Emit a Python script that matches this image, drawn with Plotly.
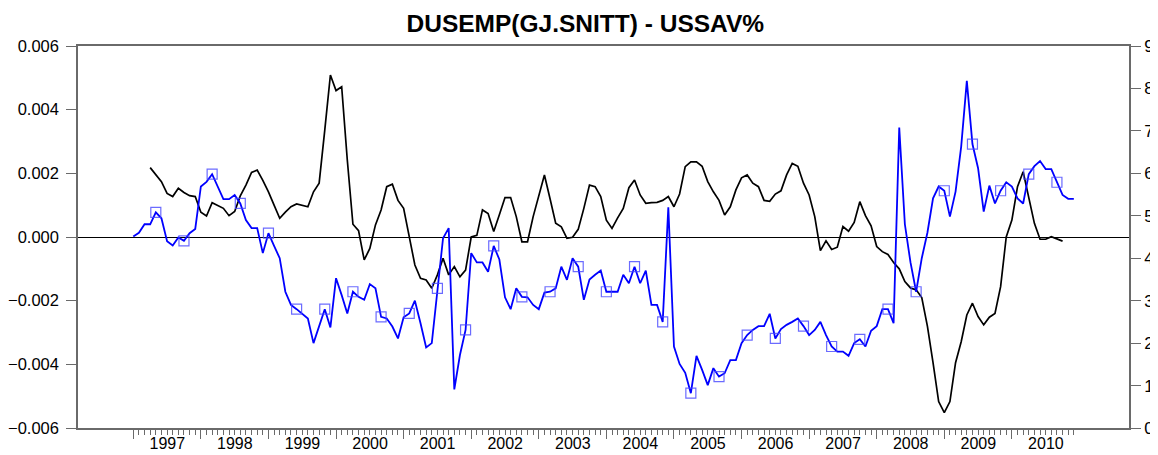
import pandas as pd
import plotly.graph_objects as go

# ---- data ----
title_text = "DUSEMP(GJ.SNITT) - USSAV%"

# USSAV% (right axis), monthly Jan 1997 - Dec 2010
ussav_start = "1997-01-01"
ussav = [
    4.51, 4.60, 4.80, 4.80, 5.08, 4.94, 4.40, 4.30, 4.49, 4.41, 4.59, 4.69,
    5.69, 5.80, 5.98, 5.69, 5.39, 5.39, 5.49, 5.29, 4.90, 4.71, 4.71, 4.12,
    4.59, 4.29, 4.00, 3.21, 2.90, 2.80, 2.70, 2.58, 2.00, 2.39, 2.80, 2.37,
    3.53, 3.13, 2.70, 3.21, 3.09, 3.02, 3.39, 3.29, 2.62, 2.58, 2.39, 2.11,
    2.61, 2.70, 3.00, 2.47, 1.90, 2.00, 3.29, 4.47, 4.71, 0.91, 1.72, 2.31,
    4.12, 3.90, 3.90, 3.68, 4.29, 3.97, 3.08, 2.80, 3.29, 3.09, 3.08, 2.90,
    2.80, 3.19, 3.21, 3.29, 3.80, 3.49, 4.00, 3.80, 3.02, 3.50, 3.61, 3.71,
    3.21, 3.21, 3.21, 3.61, 3.41, 3.80, 3.41, 3.71, 2.90, 2.90, 2.50, 5.20,
    1.92, 1.51, 1.30, 0.82, 1.70, 1.37, 1.01, 1.41, 1.21, 1.29, 1.60, 1.60,
    2.00, 2.19, 2.31, 2.40, 2.40, 2.69, 2.11, 2.33, 2.43, 2.50, 2.58, 2.40,
    2.19, 2.31, 2.50, 2.19, 1.92, 1.80, 1.80, 1.70, 2.00, 2.09, 1.92, 2.29,
    2.40, 2.80, 2.80, 2.47, 7.08, 4.80, 3.90, 3.21, 4.00, 4.60, 5.41, 5.69,
    5.59, 4.98, 5.57, 6.63, 8.18, 6.69, 6.12, 5.10, 5.71, 5.29, 5.59, 5.79,
    5.69, 5.41, 5.29, 5.98, 6.17, 6.29, 6.10, 6.10, 5.79, 5.49, 5.40, 5.40,
]

# DUSEMP(GJ.SNITT) (left axis), monthly Apr 1997 - Oct 2010
dusemp_start = "1997-04-01"
dusemp = [
    0.00218, 0.00196, 0.00174, 0.00137, 0.00127, 0.00153, 0.00140, 0.00130, 0.00127,
    0.00078, 0.00066, 0.00108, 0.00098, 0.00090, 0.00067, 0.00080, 0.00129, 0.00163,
    0.00203, 0.00210, 0.00178, 0.00142, 0.00100, 0.00059, 0.00078, 0.00095, 0.00104,
    0.00100, 0.00095, 0.00142, 0.00169, 0.00336, 0.00509, 0.00460, 0.00472, 0.00242,
    0.00040, 0.00020, -0.00072, -0.00036, 0.00038, 0.00085, 0.00158, 0.00166, 0.00115,
    0.00090, 0.00005, -0.00088, -0.00130, -0.00135, -0.00161, -0.00119, -0.00067,
    -0.00119, -0.00093, -0.00125, -0.00104, 0.00000, 0.00005, 0.00085, 0.00074,
    0.00017, 0.00070, 0.00124, 0.00124, 0.00064, -0.00015, -0.00015, 0.00064,
    0.00130, 0.00195, 0.00120, 0.00043, 0.00032, -0.00004, -0.00001, 0.00024,
    0.00090, 0.00163, 0.00158, 0.00127, 0.00053, 0.00027, 0.00060, 0.00090,
    0.00155, 0.00179, 0.00132, 0.00106, 0.00108, 0.00109, 0.00115, 0.00127,
    0.00095, 0.00135, 0.00221, 0.00236, 0.00236, 0.00222, 0.00174, 0.00142,
    0.00115, 0.00069, 0.00095, 0.00148, 0.00186, 0.00195, 0.00169, 0.00158,
    0.00115, 0.00112, 0.00135, 0.00145, 0.00195, 0.00231, 0.00222, 0.00169,
    0.00132, 0.00064, -0.00043, -0.00012, -0.00039, -0.00032, 0.00033, 0.00018,
    0.00046, 0.00111, 0.00067, 0.00035, -0.00030, -0.00046, -0.00055, -0.00080,
    -0.00100, -0.00140, -0.00160, -0.00166, -0.00190, -0.00280, -0.00395, -0.00517,
    -0.00552, -0.00517, -0.00395, -0.00329, -0.00245, -0.00208, -0.00250, -0.00276,
    -0.00252, -0.00240, -0.00156, 0.00000, 0.00053, 0.00158, 0.00205, 0.00127,
    0.00043, -0.00007, -0.00007, 0.00001, -0.00007, -0.00013,
]

years = list(range(1997, 2011))
year_labels = [str(y) for y in years]
left_ticks = [-0.006, -0.004, -0.002, 0.0, 0.002, 0.004, 0.006]
right_ticks = list(range(0, 10))
marker_every = 5
marker_offset = 4


def to_decimal_year(dates):
    return [d.year + (d.month - 1) / 12 for d in dates]


x_ussav = to_decimal_year(pd.date_range(ussav_start, periods=len(ussav), freq="MS"))
x_dusemp = to_decimal_year(pd.date_range(dusemp_start, periods=len(dusemp), freq="MS"))
minor_vals = to_decimal_year(
    d for d in pd.date_range("1997-01-01", "2010-12-01", freq="MS") if d.month != 1
)

AXIS = "#6a6a6a"
FONT = "Liberation Sans, Arial, Helvetica, sans-serif"

fig = go.Figure()
fig.add_trace(go.Scatter(
    x=x_dusemp, y=dusemp, mode="lines", yaxis="y",
    line=dict(color="black", width=1.7), showlegend=False, hoverinfo="skip",
))
fig.add_trace(go.Scatter(
    x=x_ussav, y=ussav, mode="lines", yaxis="y2",
    line=dict(color="#0000ff", width=1.8), showlegend=False, hoverinfo="skip",
))
fig.add_trace(go.Scatter(
    x=x_ussav[marker_offset::marker_every], y=ussav[marker_offset::marker_every],
    mode="markers", yaxis="y2",
    marker=dict(symbol="square-open", size=10, color="rgba(70,70,255,0.8)",
                line=dict(width=1.2)),
    showlegend=False, hoverinfo="skip",
))

# page body has an 8px default margin; size the figure so the plot lands where the reference has it
fig.update_layout(
    width=1150, height=447,
    margin=dict(l=70, r=29, t=38, b=27),
    paper_bgcolor="white", plot_bgcolor="white",
    font=dict(family=FONT, size=16, color="black"),
    title=dict(text="<b>" + title_text + "</b>", x=0.502, xanchor="center",
               xref="container", yref="container",
               y=0.966, yanchor="middle", font=dict(size=24.5, family=FONT)),
    xaxis=dict(
        range=[1996.182, 2011.733], showgrid=False, zeroline=False, automargin=False,
        showline=True, linecolor=AXIS, linewidth=1.5, mirror=True,
        tickmode="array", tickvals=years, ticktext=year_labels,
        ticks="outside", ticklen=9, tickwidth=1.2, tickcolor=AXIS,
        ticklabelshift=34, ticklabelstandoff=-9, tickfont=dict(size=16),
        minor=dict(tickmode="array", tickvals=minor_vals, ticks="outside",
                   ticklen=5, tickwidth=1, tickcolor=AXIS, showgrid=False),
    ),
    yaxis=dict(
        range=[-0.006, 0.006], showgrid=False, automargin=False,
        zeroline=True, zerolinecolor="black", zerolinewidth=1.2,
        showline=True, linecolor=AXIS, linewidth=1.5,
        tickmode="array", tickvals=left_ticks, tickformat=".3f",
        ticks="outside", ticklen=10, tickwidth=1.2, tickcolor=AXIS,
        ticklabelstandoff=4, tickfont=dict(size=16.5),
    ),
    yaxis2=dict(
        range=[0, 9], overlaying="y", side="right", showgrid=False, zeroline=False,
        automargin=False,
        showline=True, linecolor=AXIS, linewidth=1.5,
        tickmode="array", tickvals=right_ticks,
        ticks="outside", ticklen=10, tickwidth=1.2, tickcolor=AXIS,
        ticklabelstandoff=0, tickfont=dict(size=17),
    ),
)

fig.write_html("out.html")
